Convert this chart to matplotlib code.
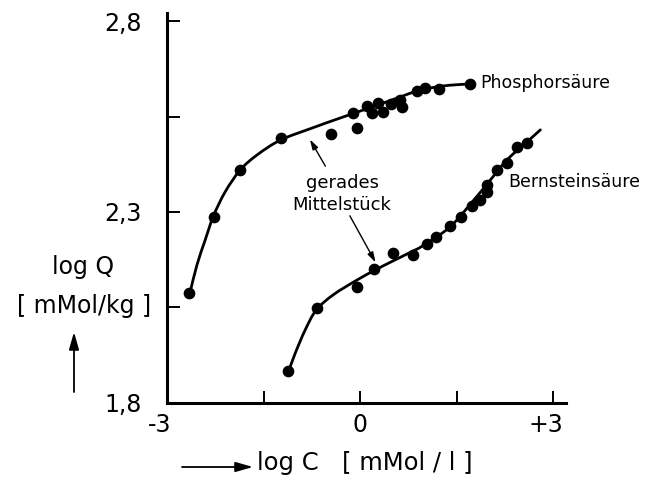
import matplotlib
matplotlib.use("Agg")
import matplotlib.pyplot as plt
from matplotlib.path import Path
from matplotlib.patches import PathPatch, FancyArrowPatch
from matplotlib.transforms import ScaledTranslation

# ---- data ----
phos_x = [-2.66, -2.27, -1.86, -1.23, -0.45, -0.05, -0.11, 0.11, 0.19, 0.28, 0.36, 0.48, 0.62, 0.65, 0.89, 1.01, 1.23, 1.71]
phos_y = [2.088, 2.287, 2.41, 2.494, 2.504, 2.52, 2.559, 2.577, 2.559, 2.585, 2.562, 2.583, 2.594, 2.575, 2.617, 2.625, 2.622, 2.635]

bern_x = [-1.12, -0.67, -0.05, 0.22, 0.51, 0.82, 1.04, 1.18, 1.40, 1.57, 1.74, 1.86, 1.97, 1.97, 2.13, 2.28, 2.44, 2.59]
bern_y = [1.884, 2.049, 2.104, 2.151, 2.193, 2.187, 2.216, 2.235, 2.263, 2.287, 2.316, 2.331, 2.352, 2.371, 2.41, 2.428, 2.47, 2.481]

# hand-drawn fit curves
phos_curve_x = [-2.64, -2.536, -2.407, -2.278, -2.096, -1.863, -1.604, -1.242, -0.776, -0.311, 0.202, 0.621, 0.885, 1.134, 1.398, 1.708]
phos_curve_y = [2.091, 2.161, 2.227, 2.290, 2.353, 2.410, 2.449, 2.488, 2.518, 2.546, 2.576, 2.601, 2.617, 2.626, 2.632, 2.635]

bern_curve_x = [-1.113, -1.009, -0.854, -0.683, -0.419, -0.047, 0.233, 0.512, 0.776, 0.978, 1.398, 1.755, 1.972, 2.28, 2.59, 2.80]
bern_curve_y = [1.882, 1.930, 1.991, 2.043, 2.083, 2.122, 2.148, 2.172, 2.194, 2.212, 2.261, 2.329, 2.373, 2.436, 2.483, 2.515]

x_ticks = [-3, -1.5, 0, 1.5, 3]
x_tick_labels = ["-3", "", "0", "", "+3"]
y_ticks = [1.8, 2.05, 2.3, 2.55, 2.8]
y_tick_labels = ["1,8", "", "2,3", "", "2,8"]


def smooth_path(xs, ys):
    """Catmull-Rom curve through the given points, drawn as cubic Bezier path."""
    pts = list(zip(xs, ys))
    verts = [pts[0]]
    codes = [Path.MOVETO]
    n = len(pts)
    for i in range(n - 1):
        p0 = pts[i - 1] if i > 0 else pts[i]
        p1 = pts[i]
        p2 = pts[i + 1]
        p3 = pts[i + 2] if i + 2 < n else pts[i + 1]
        c1 = (p1[0] + (p2[0] - p0[0]) / 6, p1[1] + (p2[1] - p0[1]) / 6)
        c2 = (p2[0] - (p3[0] - p1[0]) / 6, p2[1] - (p3[1] - p1[1]) / 6)
        verts += [c1, c2, p2]
        codes += [Path.CURVE4] * 3
    return Path(verts, codes)


fig = plt.figure(figsize=(6.59, 4.78), dpi=100)
ax = fig.add_axes([0.2535, 0.157, 0.6055, 0.815])
ax.set_xlim(-3, 3.2)
ax.set_ylim(1.8, 2.82)

for s in ["top", "right"]:
    ax.spines[s].set_visible(False)
for s in ["left", "bottom"]:
    ax.spines[s].set_linewidth(2.2)
    ax.spines[s].set_color("black")

ax.set_xticks(x_ticks)
ax.set_xticklabels(x_tick_labels)
ax.set_yticks(y_ticks)
ax.set_yticklabels(y_tick_labels)
ax.tick_params(axis="both", direction="in", length=9, width=1.4, labelsize=17)
ax.tick_params(axis="y", pad=18)
ax.tick_params(axis="x", pad=7)
shift = ScaledTranslation(-7 / 100, 0, fig.dpi_scale_trans)
for lbl in ax.get_xticklabels():
    if lbl.get_text() in ("-3", "+3"):
        lbl.set_transform(lbl.get_transform() + shift)

for cx, cy in [(phos_curve_x, phos_curve_y), (bern_curve_x, bern_curve_y)]:
    ax.add_patch(PathPatch(smooth_path(cx, cy), facecolor="none", edgecolor="black",
                           lw=2.0, capstyle="round"))
ax.plot(phos_x, phos_y, "o", color="black", ms=7.4, clip_on=False)
ax.plot(bern_x, bern_y, "o", color="black", ms=7.4, clip_on=False)

ax.text(1.86, 2.637, "Phosphorsäure", fontsize=12.5, va="center", ha="left")
ax.text(2.30, 2.378, "Bernsteinsäure", fontsize=12.5, va="center", ha="left")
ax.text(-0.28, 2.376, "gerades", fontsize=13, va="center", ha="center")
ax.text(-0.28, 2.318, "Mittelstück", fontsize=13, va="center", ha="center")

arrowprops = dict(arrowstyle="-|>,head_length=0.6,head_width=0.18", color="black", lw=1.0,
                  shrinkA=0, shrinkB=0)
ax.annotate("", xy=(-0.78, 2.490), xytext=(-0.54, 2.420), arrowprops=arrowprops)
ax.annotate("", xy=(0.24, 2.168), xytext=(-0.16, 2.290), arrowprops=arrowprops)

# axis labels
fig.text(83 / 659, 1 - 267 / 478, "log Q", fontsize=17, ha="center", va="center")
fig.text(84 / 659, 1 - 306 / 478, "[ mMol/kg ]", fontsize=17, ha="center", va="center")
fig.patches.append(FancyArrowPatch(
    (74 / 659, 1 - 392 / 478), (74 / 659, 1 - 332 / 478), transform=fig.transFigure,
    arrowstyle="-|>,head_length=0.7,head_width=0.2", color="black", lw=1.3,
    mutation_scale=15, shrinkA=0, shrinkB=0))
fig.patches.append(FancyArrowPatch(
    (182 / 659, 1 - 467 / 478), (253 / 659, 1 - 467 / 478), transform=fig.transFigure,
    arrowstyle="-|>,head_length=0.7,head_width=0.2", color="black", lw=1.3,
    mutation_scale=15, shrinkA=0, shrinkB=0))
fig.text(257 / 659, 1 - 463 / 478, "log C   [ mMol / l ]", fontsize=17.5, ha="left", va="center")

fig.savefig("out.png", dpi=100)
